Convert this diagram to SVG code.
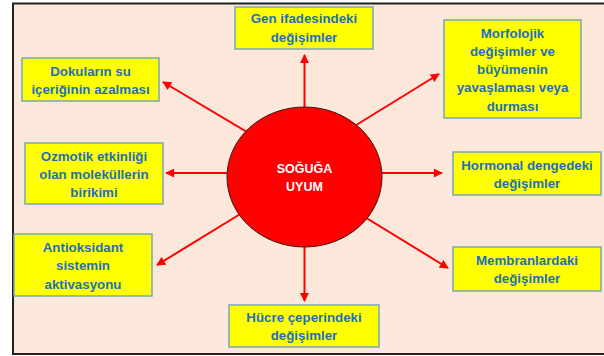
<svg xmlns="http://www.w3.org/2000/svg" width="604" height="356" viewBox="0 0 604 356">
<defs>
<style>
.box{fill:#FFFF00;stroke:#7AA6B4;stroke-width:1.5}
.t{font-family:"Liberation Sans",Arial,sans-serif;font-weight:bold;font-size:13.3px;fill:#1F70B8;text-anchor:middle}
.c{font-family:"Liberation Sans",Arial,sans-serif;font-weight:bold;font-size:12.5px;fill:#FFFFFF;text-anchor:middle}
.ar{stroke:#FF0000;stroke-width:2;fill:none;marker-end:url(#ah)}
</style>
<marker id="ah" viewBox="0 0 10 10" refX="9" refY="5" markerUnits="userSpaceOnUse" markerWidth="10" markerHeight="9" orient="auto">
<path d="M0,0 L10,5 L0,10 z" fill="#FF0000"/>
</marker>
</defs>
<rect x="0" y="0" width="604" height="356" fill="#FFFFFF"/>
<rect x="13" y="3.5" width="600" height="350.5" fill="#FCE8DB" stroke="#222222" stroke-width="2"/>
<g id="connectors">
<line class="ar" x1="304.5" y1="120" x2="304.5" y2="55"/>
<line class="ar" x1="340" y1="135" x2="439" y2="74"/>
<line class="ar" x1="370" y1="173" x2="442" y2="173"/>
<line class="ar" x1="350" y1="208" x2="448" y2="268"/>
<line class="ar" x1="304.5" y1="235" x2="304.5" y2="301"/>
<line class="ar" x1="255" y1="205" x2="157" y2="265"/>
<line class="ar" x1="240" y1="173" x2="166" y2="173"/>
<line class="ar" x1="262" y1="141" x2="163" y2="82"/>
</g>
<g id="center">
<ellipse cx="304.5" cy="177" rx="77.5" ry="70" fill="#FF0000" stroke="#3A1A1A" stroke-width="1"/>
<text class="c" x="304.5" y="172.5">SOĞUĞA</text>
<text class="c" x="304.5" y="190.5">UYUM</text>
</g>
<g id="gen">
<rect class="box" x="235" y="7" width="138" height="42"/>
<text class="t" x="304" y="23">Gen ifadesindeki</text>
<text class="t" x="304" y="41.5">değişimler</text>
</g>
<g id="morfolojik">
<rect class="box" x="444" y="20" width="137" height="98"/>
<text class="t" x="512.5" y="37.5">Morfolojik</text>
<text class="t" x="512.5" y="55.5">değişimler ve</text>
<text class="t" x="512.5" y="73.5">büyümenin</text>
<text class="t" x="512.5" y="92">yavaşlaması veya</text>
<text class="t" x="512.5" y="110.5">durması</text>
</g>
<g id="hormonal">
<rect class="box" x="453" y="152" width="148" height="43"/>
<text class="t" x="527" y="169.5">Hormonal dengedeki</text>
<text class="t" x="527" y="188">değişimler</text>
</g>
<g id="membran">
<rect class="box" x="453" y="247" width="148" height="44"/>
<text class="t" x="527" y="264.5">Membranlardaki</text>
<text class="t" x="527" y="283">değişimler</text>
</g>
<g id="hucre">
<rect class="box" x="229" y="305" width="150" height="42"/>
<text class="t" x="304" y="321.5">Hücre çeperindeki</text>
<text class="t" x="304" y="340">değişimler</text>
</g>
<g id="antioksidant">
<rect class="box" x="14" y="234" width="138" height="62"/>
<text class="t" x="83" y="251.5">Antioksidant</text>
<text class="t" x="83" y="270">sistemin</text>
<text class="t" x="83" y="288.5">aktivasyonu</text>
</g>
<g id="ozmotik">
<rect class="box" x="25" y="143" width="138" height="61"/>
<text class="t" x="94" y="160.5">Ozmotik etkinliği</text>
<text class="t" x="94" y="178.5">olan moleküllerin</text>
<text class="t" x="94" y="196.5">birikimi</text>
</g>
<g id="dokular">
<rect class="box" x="22" y="58" width="137" height="43"/>
<text class="t" x="90.5" y="75.5">Dokuların su</text>
<text class="t" x="90.5" y="93.5">içeriğinin azalması</text>
</g>
</svg>
